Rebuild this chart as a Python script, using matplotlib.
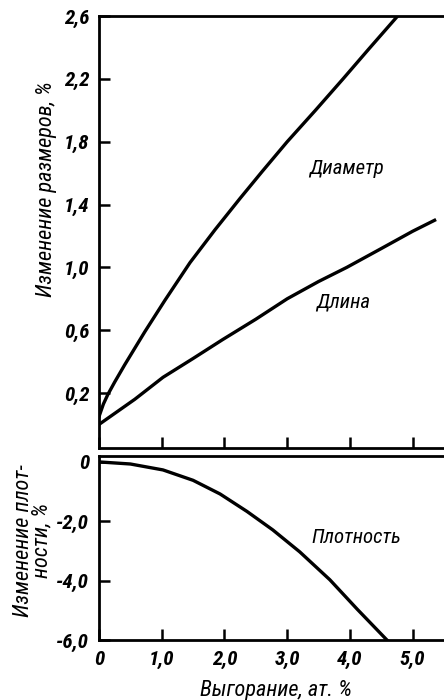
import numpy as np
import matplotlib
matplotlib.use('Agg')
import matplotlib.pyplot as plt
from matplotlib import font_manager

# Burnup, at.%  vs size change, %
diam_x = [0.0, 0.07, 0.14, 0.25, 0.41, 0.73, 1.05, 1.45, 1.85, 2.25, 2.6, 3.0, 3.45, 3.89, 4.3, 4.76]
diam_y = [0.05, 0.13, 0.19, 0.27, 0.38, 0.59, 0.79, 1.03, 1.24, 1.44, 1.61, 1.8, 2.0, 2.2, 2.39, 2.6]

len_x = [0.0, 0.57, 1.02, 1.5, 1.97, 2.5, 3.0, 3.5, 3.95, 4.5, 5.0, 5.35]
len_y = [0.0, 0.16, 0.30, 0.42, 0.54, 0.67, 0.80, 0.91, 1.0, 1.12, 1.23, 1.30]

# density change, %
dens_x = [0.0, 0.5, 1.02, 1.5, 1.93, 2.36, 2.77, 3.2, 3.68, 4.12, 4.59]
dens_y = [0.0, -0.07, -0.27, -0.62, -1.08, -1.67, -2.29, -3.03, -3.97, -4.97, -6.0]

top_ticks = [0.2, 0.6, 1.0, 1.4, 1.8, 2.2, 2.6]
top_labels = ['0,2', '0,6', '1,0', '1,4', '1,8', '2,2', '2,6']
bot_yticks = [0.0, -2.0, -4.0, -6.0]
bot_ylabels = ['0', '-2,0', '-4,0', '-6,0']
xticks = [0, 1, 2, 3, 4, 5]
xlabels = ['0', '1,0', '2,0', '3,0', '4,0', '5,0']

# narrow font if there is one, the original uses a condensed drafting face
installed = {f.name for f in font_manager.fontManager.ttflist}
fam = 'DejaVu Sans'
for cand in ['Liberation Sans Narrow', 'Roboto Condensed', 'Open Sans Condensed']:
    if cand in installed:
        fam = cand
        break
narrow = fam != 'DejaVu Sans'
plt.rcParams['font.family'] = [fam, 'DejaVu Sans']
plt.rcParams['font.style'] = 'italic'

tick_fs = 15 if narrow else 12
lab_fs = 16 if narrow else 12.5
note_fs = 15 if narrow else 12

fig = plt.figure(figsize=(4.44, 7.0), dpi=100)
ax1 = fig.add_axes([0.223, 0.36, 0.777, 0.617])
ax2 = fig.add_axes([0.223, 0.0857, 0.777, 0.2629])

for ax in (ax1, ax2):
    ax.set_xlim(0, 5.5)
    ax.spines['right'].set_visible(False)
    for s in ('left', 'top', 'bottom'):
        ax.spines[s].set_linewidth(2.0)
    ax.tick_params(direction='in', length=8, width=1.8, labelsize=tick_fs, pad=7)
    ax.set_xticks(xticks)

ax1.plot(diam_x, diam_y, color='black', lw=2.4)
ax1.plot(len_x, len_y, color='black', lw=2.4)
ax1.set_ylim(-0.15, 2.6)
ax1.set_yticks(top_ticks)
ax1.set_yticklabels(top_labels, fontweight='bold')
ax1.set_xticklabels([])
ax1.set_ylabel('Изменение размеров, %', fontsize=lab_fs)
ax1.yaxis.set_label_coords(-0.122, 0.60)
ax1.text(3.94, 1.63, 'Диаметр', fontsize=note_fs, ha='center', va='center')
ax1.text(3.89, 0.78, 'Длина', fontsize=note_fs, ha='center', va='center')

ax2.plot(dens_x, dens_y, color='black', lw=2.4)
ax2.set_ylim(-6.0, 0.2)
ax2.set_yticks(bot_yticks)
ax2.set_yticklabels(bot_ylabels, fontweight='bold')
ax2.set_xticklabels(xlabels, fontweight='bold')
ax2.set_ylabel('Изменение плот-\nности, %', fontsize=lab_fs, linespacing=0.85)
ax2.yaxis.set_label_coords(-0.135, 0.54)
ax2.set_xlabel('Выгорание, ат. %', fontsize=lab_fs)
ax2.xaxis.set_label_coords(0.513, -0.215)
ax2.text(4.11, -2.56, 'Плотность', fontsize=note_fs, ha='center', va='center')

fig.savefig('out.png', dpi=100)
